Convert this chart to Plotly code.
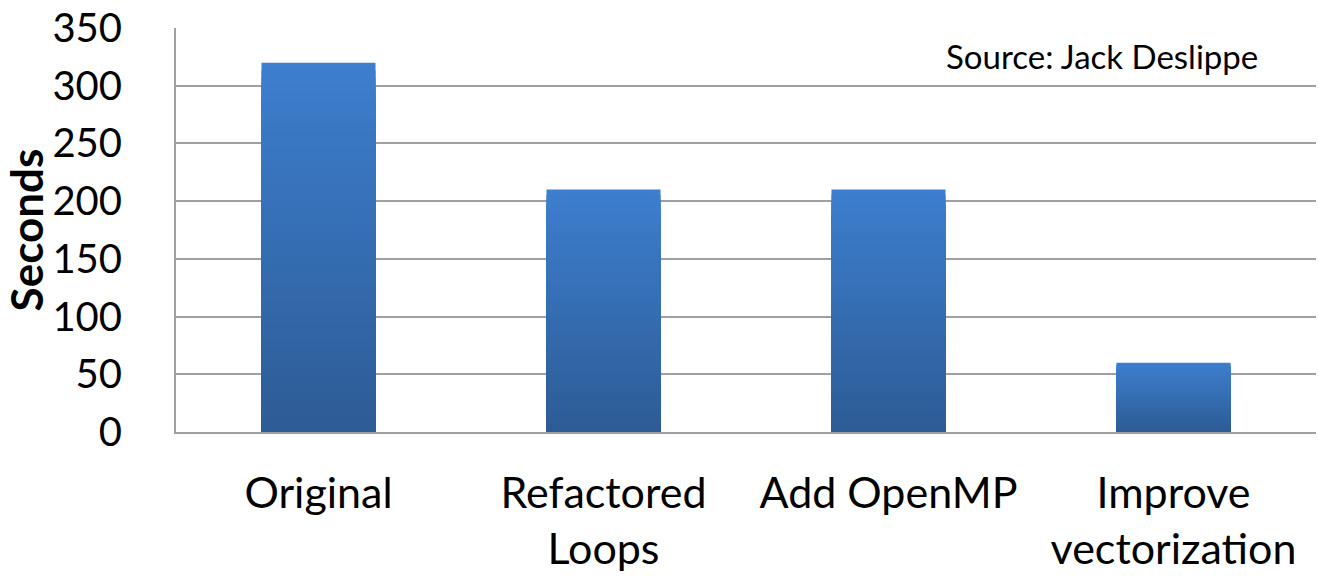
import plotly.graph_objects as go

# Runtime of each optimisation step
categories = ["Original", "Refactored<br>Loops", "Add OpenMP", "Improve<br>vectorization"]
seconds = [320, 210, 210, 60]

y_ticks = [0, 50, 100, 150, 200, 250, 300, 350]

FONT = "Lato"
TOP_RGB = (61, 126, 206)
BOTTOM_RGB = (45, 92, 150)
STEPS = 48

fig = go.Figure()

# Vertical gradient: full bar in the light top colour, then progressively
# shorter and darker bars overlaid from the baseline.
for k in range(STEPS):
    frac = 1 - k / STEPS
    t = k / (STEPS - 1)
    r, g, b = (round(TOP_RGB[i] + (BOTTOM_RGB[i] - TOP_RGB[i]) * t) for i in range(3))
    fig.add_trace(go.Bar(
        x=categories,
        y=[v * frac for v in seconds],
        marker=dict(color=f"rgb({r},{g},{b})", line=dict(width=0)),
        hoverinfo="skip" if k else None,
        showlegend=False,
    ))

fig.update_layout(
    width=1319,
    height=577,
    margin=dict(l=176, r=3, t=28, b=145),
    paper_bgcolor="white",
    plot_bgcolor="white",
    barmode="overlay",
    bargap=0.6,
    font=dict(family=FONT, color="black", size=42),
    showlegend=False,
    annotations=[dict(
        text="Source: Jack Deslippe",
        xref="paper", yref="paper",
        x=0.951, y=0.985,
        xanchor="right", yanchor="top",
        showarrow=False,
        font=dict(family=FONT, size=33, color="black"),
    )],
)

fig.update_xaxes(
    automargin=False,
    showgrid=False,
    showline=True, linecolor="#a0a0a0", linewidth=2,
    ticks="", ticklabelstandoff=22,
    tickfont=dict(family=FONT, size=43),
)
fig.update_yaxes(
    automargin=False,
    range=[0, 350],
    tickvals=y_ticks,
    showgrid=True, gridcolor="#a0a0a0", gridwidth=2,
    showline=True, linecolor="#a0a0a0", linewidth=2,
    zeroline=False,
    ticks="", ticklabelstandoff=44,
    tickfont=dict(family=FONT, size=40),
    title=dict(text="<b>Seconds</b>", font=dict(family=FONT, size=44), standoff=6),
)

fig.write_html("out.html")
